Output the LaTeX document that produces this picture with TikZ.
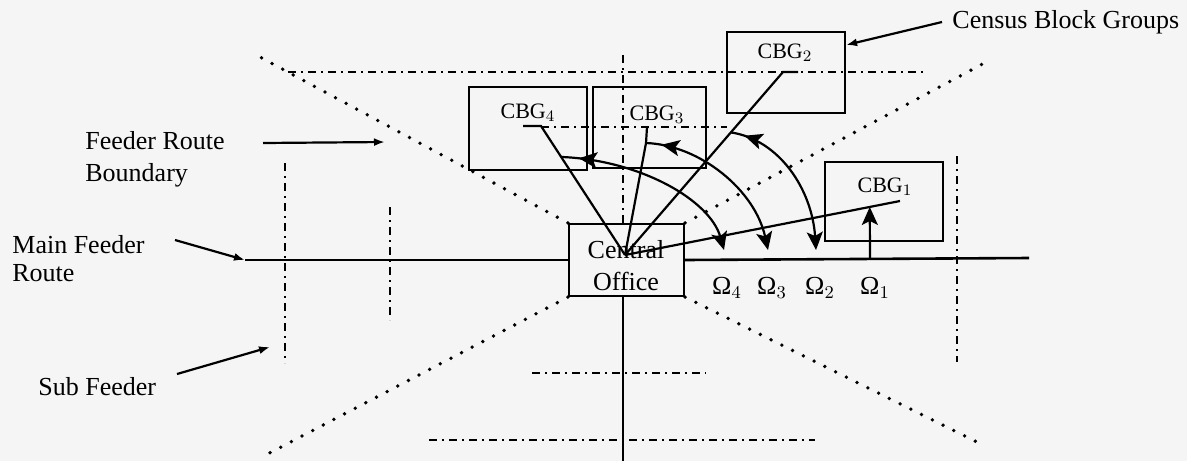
\documentclass[tikz,border=0pt]{standalone}
\usepackage{fontspec}
\setmainfont{Liberation Serif}
\usetikzlibrary{shapes,arrows,arrows.meta,positioning,decorations.markings,calc}
\definecolor{paper}{HTML}{F5F5F5}

\begin{document}
\begin{tikzpicture}[x=0.5pt, y=-0.5pt,
    box/.style={draw, line width=1.1pt, rectangle, inner sep=0pt},
    cbg/.style={font=\fontsize{11}{13}\selectfont, inner sep=1pt},
    lbl/.style={font=\fontsize{13}{16}\selectfont, align=left, inner sep=0pt},
    lead/.style={line width=1.1pt},
    feeder/.style={line width=1.3pt},
    bound/.style={line width=1.9pt, line cap=round, dash pattern=on 0pt off 6pt},
    subf/.style={line width=1.2pt, dash pattern=on 4pt off 2.5pt on 1pt off 2.5pt},
    pointer/.style={line width=1.1pt, -{Latex[length=5.5pt,width=4pt]}},
    rot/.style={line width=1.1pt, -{Stealth[length=9pt,width=8pt,inset=2pt]}, postaction={decorate},
        decoration={markings, mark=at position 0.09 with {\arrowreversed{Stealth[length=9pt,width=8pt,inset=2pt]}}}}
]
\path[use as bounding box, fill=paper] (0,0) rectangle (1187,461);

% boxes
\node[box, minimum width=57.5pt, minimum height=36pt] (office) at (626.5,260) {};
\node[lbl, align=center] (officetxt) at (626,266) {Central\\Office};
\node[box, minimum width=59pt, minimum height=41.5pt] (cbg4) at (528,128.5) {};
\node[box, minimum width=56.5pt, minimum height=40.5pt] (cbg3) at (649.5,127.5) {};
\node[box, minimum width=59pt, minimum height=40.5pt] (cbg2) at (786,72.5) {};
\node[box, minimum width=59pt, minimum height=39.5pt] (cbg1) at (884,201.5) {};
\node[cbg] (cbg4txt) at (528,113) {CBG$_4$};
\node[cbg] (cbg3txt) at (657,115) {CBG$_3$};
\node[cbg] (cbg2txt) at (785,53) {CBG$_2$};
\node[cbg] (cbg1txt) at (885,187) {CBG$_1$};

% feeder route boundaries
\draw[bound] (office.north west) -- (260,57);
\draw[bound] (office.north east) -- (990,60);
\draw[bound] (office.south east) -- (983,445);
\draw[bound] (office.south west) -- (260,458);

% sub feeders
\draw[subf] (288,72) -- (927,72);
\draw[subf] (541,127) -- (727,127);
\draw[subf] (532,373) -- (706,373);
\draw[subf] (429,440) -- (815,440);
\draw[subf] (285,163) -- (285,363);
\draw[subf] (390,207) -- (390,320);
\draw[subf] (957,156) -- (957,362);
\draw[subf] (623,55) -- (office.north -| 623,0);
\draw[line width=0.9pt] (office.south -| 623,0) -- (623,461);

% main feeder route
\coordinate (mainW) at (245,260);
\coordinate (mainE) at (1029,258);
\draw[feeder] (mainW) -- (office.west);
\draw[feeder] (office.east) -- (mainE);

% leaders from the office
\coordinate (hub) at (625,255);
\coordinate (l1) at (900,201);
\coordinate (l2) at (783,72);
\coordinate (l2e) at (798,72);
\coordinate (l3) at (646,143);
\coordinate (l3e) at (647,127);
\coordinate (l4) at (541,126);
\coordinate (l4e) at (523,126);
\draw[lead] (hub) -- (l1);
\draw[lead] (hub) -- (l2) -- (l2e);
\draw[lead] (hub) -- (l3) -- (l3e);
\draw[lead] (hub) -- (l4) -- (l4e);

% rotation onto the main route
\coordinate (om4) at (724,250);
\coordinate (om3) at (768,250);
\coordinate (om2) at (816,250);
\coordinate (om1) at (870,258);
\draw[rot] ($(l4)!0.24!(hub)$) .. controls (640,160) and (710,200) .. (om4);
\draw[rot] (l3) .. controls (700,145) and (755,190) .. (om3);
\draw[rot] ($(l2)!0.33!(hub)$) .. controls (780,140) and (812,190) .. (om2);
\draw[lead, -{Stealth[length=9pt,width=8pt,inset=2pt]}] (om1) -- ($(hub)!0.89!(l1)$);
\node[lbl] (om4txt) at (727,288) {Ω$_4$};
\node[lbl] (om3txt) at (772,288) {Ω$_3$};
\node[lbl] (om2txt) at (820,288) {Ω$_2$};
\node[lbl] (om1txt) at (875,288) {Ω$_1$};

% labels
\node[lbl, anchor=west] (cbgtxt) at (952,22) {Census Block Groups};
\node[lbl, anchor=west] (fbtxt) at (85,159) {Feeder Route\\Boundary};
\node[lbl, anchor=west, font=\fontsize{13}{14}\selectfont] (mftxt) at (12,259) {Main Feeder\\Route};
\node[lbl, anchor=west] (sftxt) at (38,387) {Sub Feeder};
\coordinate (cbgA) at (942,22);
\coordinate (fbA) at (263,143);
\coordinate (fbB) at (385,142);
\coordinate (mfA) at (175,240);
\coordinate (sfA) at (177,374);
\coordinate (sfB) at (270,347);
\draw[pointer] (cbgA) -- (cbg2.east |- 0,45);
\draw[pointer] (fbA) -- (fbB);
\draw[pointer] (mfA) -- (mainW);
\draw[pointer] (sfA) -- (sfB);
\end{tikzpicture}
\end{document}
